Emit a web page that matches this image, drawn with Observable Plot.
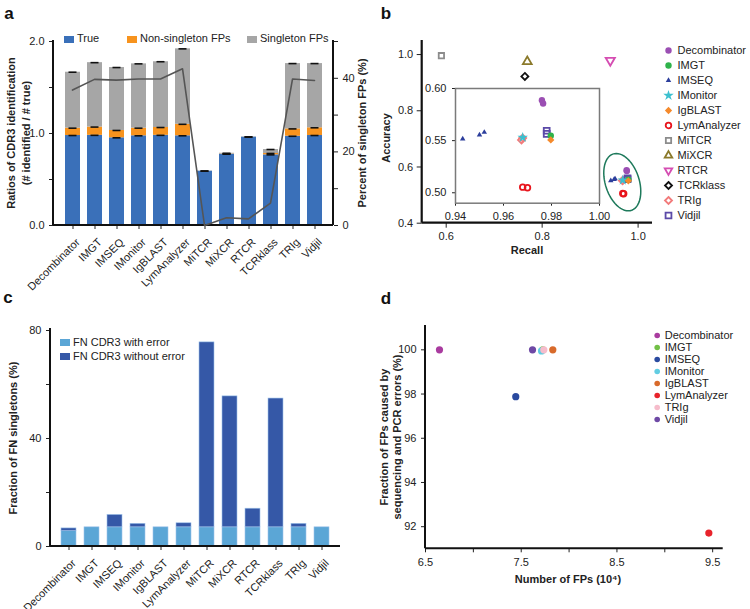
<!DOCTYPE html>
<html>
<head>
<meta charset="utf-8">
<script src="https://cdn.jsdelivr.net/npm/d3@7"></script>
<script src="https://cdn.jsdelivr.net/npm/@observablehq/plot@0.6"></script>
<style>
  body { margin: 0; background: #fff; font-family: "Liberation Sans", Arial, sans-serif; }
  #root { position: relative; width: 750px; height: 609px; overflow: hidden; background: #fff; }
  .t { position: absolute; white-space: nowrap; color: #222; font-size: 11px; line-height: 1; }
  .b { font-weight: bold; }
  .letter { font-weight: bold; font-size: 17px; color: #111; }
  .sw { position: absolute; }
</style>
</head>
<body>
<div id="root"></div>
<script>
// ---------------- DATA ----------------
// Panel a
const toolsA = ["Decombinator","IMGT","IMSEQ","IMonitor","IgBLAST","LymAnalyzer","MiTCR","MiXCR","RTCR","TCRklass","TRIg","Vidjil"];
const seriesA = ["True","Non-singleton FPs","Singleton FPs"];
const colorsA = ["#3a70b9","#f7931e","#a6a6a6"];
const trueA = [0.978,0.98,0.953,0.975,0.98,0.975,0.59,0.775,0.96,0.768,0.97,0.978];
const nonSingletonA = [0.08,0.09,0.08,0.083,0.085,0.125,0,0.003,0,0.015,0.08,0.084];
const singletonA = [0.608,0.70,0.684,0.699,0.715,0.82,0.003,0.007,0.004,0.043,0.71,0.698];
const singletonPctA = [36.8,39.7,39.5,39.8,39.8,42.6,0,2.1,1.8,6.1,39.8,39.4];
const ticksLeftA = [0,0.5,1,1.5,2];
const ticksRightA = [0,10,20,30,40,50];

// Panel b
const toolsB = ["Decombinator","IMGT","IMSEQ","IMonitor","IgBLAST","LymAnalyzer","MiTCR","MiXCR","RTCR","TCRklass","TRIg","Vidjil"];
const colorsB = ["#9b4fb3","#2fb34a","#2c3e9c","#3cc0cf","#f58a2c","#e8141c","#8c8c8c","#8b7a2b","#d54db2","#111111","#f27b7b","#5b4aa8"];
const filledB = [true,true,true,true,true,false,false,false,false,false,false,false];
const recallB = [[0.976,0.9765],[0.9797],[0.943,0.950,0.952],[0.968],[0.9797],[0.968,0.970],[0.590],[0.769],[0.942],[0.764],[0.9675,0.968],[0.978,0.978]];
const accuracyB = [[0.5888,0.5856],[0.5548],[0.5517,0.5555,0.558],[0.553],[0.5507],[0.5054,0.5048],[0.996],[0.975],[0.979],[0.922],[0.5507,0.5525],[0.5595,0.5565]];
const ticksXB = [0.6,0.8,1.0], ticksYB = [0.4,0.6,0.8,1.0];
const insetTicksXB = [0.94,0.96,0.98,1.00], insetTicksYB = [0.50,0.55,0.60];
const clusterOutlineB = {cx: 0.967, cy: 0.546, rx: 0.0365, ry: 0.102, shear: 0.0125};

// Panel c
const toolsC = toolsA;
const seriesC = ["FN CDR3 with error","FN CDR3 without error"];
const colorsC = ["#5ba6d6","#3558a7"];
const fnWithErrorC = [5.7,7.1,7.1,7.1,7.1,7.1,7.1,7.1,7.1,7.1,7.1,7.1];
const fnWithoutErrorC = [1.0,0,4.6,1.3,0,1.5,68.5,48.5,6.9,47.7,1.3,0];
const ticksC = [0,20,40,60,80];

// Panel d
const toolsD = ["Decombinator","IMGT","IMSEQ","IMonitor","IgBLAST","LymAnalyzer","TRIg","Vidjil"];
const colorsD = ["#a93b9f","#72c046","#2a4a9f","#62cde2","#d86a2b","#e8232b","#f6bccb","#6e49a5"];
const fpCountD = [6.646,7.725,7.443,7.712,7.83,9.46,7.736,7.618];
const fpErrorPctD = [100,100,97.88,99.95,100,91.71,100,100];
const ticksXD = [6.5,7,7.5,8,8.5,9,9.5];
const ticksYD = [92,94,96,98,100];

// ---------------- HELPERS ----------------
const root = document.getElementById("root");
const FONT = '"Liberation Sans", Arial, sans-serif';
const baseStyle = {fontFamily: FONT, fontSize: "11px", color: "#222", background: "transparent", overflow: "visible"};
function put(node, left, top) {
  node.style.position = "absolute";
  node.style.left = left + "px";
  node.style.top = top + "px";
  node.style.maxWidth = "none";
  root.appendChild(node);
  return node;
}
function axisLine(svg, x1, y1, x2, y2, w) {
  d3.select(svg).append("line")
    .attr("x1", x1).attr("y1", y1).attr("x2", x2).attr("y2", y2)
    .attr("stroke", "#111").attr("stroke-width", w || 2);
}
function shiftXLabels(svg, dx, dy) {
  const ns = "http://www.w3.org/2000/svg";
  svg.querySelectorAll('[aria-label^="x-axis"] text').forEach(t => {
    const g = document.createElementNS(ns, "g");
    g.setAttribute("transform", `translate(${dx},${dy})`);
    t.parentNode.insertBefore(g, t);
    g.appendChild(t);
  });
}
function text(content, cx, cy, cls, rotate) {
  const el = document.createElement("div");
  el.className = "t " + (cls || "");
  el.textContent = content;
  el.style.left = cx + "px";
  el.style.top = cy + "px";
  el.style.transform = "translate(-50%,-50%)" + (rotate ? " rotate(-90deg)" : "");
  root.appendChild(el);
  return el;
}
function swatchItem(color, label, left, cy, w, h) {
  const s = document.createElement("div");
  s.className = "sw";
  s.style.left = left + "px"; s.style.top = (cy - h / 2) + "px";
  s.style.width = w + "px"; s.style.height = h + "px"; s.style.background = color;
  root.appendChild(s);
  const t = document.createElement("div");
  t.className = "t";
  t.textContent = label;
  t.style.left = (left + w + 3) + "px";
  t.style.top = (cy - 6) + "px";
  root.appendChild(t);
}
const diamondSym = { draw(ctx, size) { const r = Math.sqrt(size) * 0.66; ctx.moveTo(0, -r); ctx.lineTo(r, 0); ctx.lineTo(0, r); ctx.lineTo(-r, 0); ctx.closePath(); } };
const triangleDownSym = { draw(ctx, size) { const s = Math.sqrt(size) * 0.6824, t = s / 2, u = s * Math.sqrt(3) / 2; ctx.moveTo(0, s); ctx.lineTo(u, -t); ctx.lineTo(-u, -t); ctx.closePath(); } };
const triangleUpSym = { draw(ctx, size) { const s = Math.sqrt(size) * 0.6824, t = s / 2, u = s * Math.sqrt(3) / 2; ctx.moveTo(0, -s); ctx.lineTo(u, t); ctx.lineTo(-u, t); ctx.closePath(); } };
const symbolsB = [d3.symbolCircle, d3.symbolCircle, triangleUpSym, d3.symbolStar, diamondSym, d3.symbolCircle, d3.symbolSquare, triangleUpSym, triangleDownSym, diamondSym, diamondSym, d3.symbolSquare];
const rB = [3.2,3.2,2.6,3.3,3.1,2.8,3.0,4.2,4.4,3.0,3.0,3.3];

// ---------------- PANEL A ----------------
const mA = {top: 41, right: 42, bottom: 75, left: 53, w: 375, h: 300};
const rowsA = toolsA.flatMap((tool, i) => [
  {tool, series: seriesA[0], value: trueA[i]},
  {tool, series: seriesA[1], value: nonSingletonA[i]},
  {tool, series: seriesA[2], value: singletonA[i]}
]);
const capsA = toolsA.flatMap((tool, i) => {
  const parts = [trueA[i], nonSingletonA[i], singletonA[i]];
  let acc = 0;
  return parts.map(p => { acc += p; return {tool, top: acc, size: p}; }).filter(d => d.size > 0.0015);
});
const plotA = Plot.plot({
  width: mA.w, height: mA.h,
  marginTop: mA.top, marginRight: mA.right, marginBottom: mA.bottom, marginLeft: mA.left,
  style: baseStyle,
  x: {domain: toolsA, padding: 0.34, tickRotate: -45, tickSize: 4, label: null},
  y: {domain: [0, 2], ticks: ticksLeftA, tickFormat: d => Number.isInteger(d) ? d.toFixed(1) : "", tickSize: 4, label: null},
  color: {domain: seriesA, range: colorsA},
  marks: [
    Plot.barY(rowsA, {x: "tool", y: "value", fill: "series"}),
    Plot.tickY(capsA, {x: "tool", y: "top", stroke: "#111", strokeWidth: 1.6, insetLeft: 3.5, insetRight: 3.5})
  ]
});
put(plotA, 0, 0);
shiftXLabels(plotA, 5, 3);
axisLine(plotA, mA.left, mA.top - 1, mA.left, mA.h - mA.bottom);
axisLine(plotA, mA.left, mA.h - mA.bottom, mA.w - mA.right, mA.h - mA.bottom);

const lineA = Plot.plot({
  width: mA.w, height: mA.h,
  marginTop: mA.top, marginRight: mA.right, marginBottom: mA.bottom, marginLeft: mA.left,
  style: baseStyle,
  x: {type: "point", domain: toolsA, padding: 0.67, axis: null},
  y: {domain: [0, 50], axis: "right", ticks: ticksRightA, tickFormat: d => d % 20 === 0 ? String(d) : "", tickSize: 4, label: null},
  marks: [
    Plot.line(toolsA.map((tool, i) => ({tool, pct: singletonPctA[i]})), {x: "tool", y: "pct", stroke: "#555", strokeWidth: 1.6})
  ]
});
put(lineA, 0, 0);
axisLine(lineA, mA.w - mA.right, mA.top - 1, mA.w - mA.right, mA.h - mA.bottom);

[64, 127, 247].forEach((left, i) => swatchItem(colorsA[i], seriesA[i], left, 39, 10, 7));
text("a", 9, 13, "letter");
text("Ratios of CDR3 identification", 11, 133, "b", true);
text("(# identified / # true)", 26, 133, "b", true);
text("Percent of singleton FPs (%)", 362, 133, "b", true);

// ---------------- PANEL B ----------------
const mB = {top: 40, right: 98, bottom: 77.3, left: 46.7, w: 375, h: 300};
const pointsB = toolsB.flatMap((tool, i) => recallB[i].map((r, k) => ({tool, recall: r, accuracy: accuracyB[i][k]})));
const drawOrderB = d3.range(toolsB.length).sort((a, b) => (filledB[a] - filledB[b]) || (a - b));
function dotMarksB(filterFn, scale) {
  return drawOrderB.map(i => Plot.dot(pointsB.filter(d => d.tool === toolsB[i] && filterFn(d)), {
    x: "recall", y: "accuracy", symbol: symbolsB[i], r: rB[i] * (scale || 1),
    fill: filledB[i] ? colorsB[i] : "none",
    stroke: filledB[i] ? "none" : colorsB[i],
    strokeWidth: filledB[i] ? 0 : 1.8
  }));
}
const o = clusterOutlineB;
const outlineB = d3.range(0, 361, 6).map(a => {
  const t = a * Math.PI / 180;
  return {recall: o.cx + o.rx * Math.cos(t) - o.shear * Math.sin(t), accuracy: o.cy + o.ry * Math.sin(t)};
});
const plotB = Plot.plot({
  width: mB.w, height: mB.h,
  marginTop: mB.top, marginRight: mB.right, marginBottom: mB.bottom, marginLeft: mB.left,
  style: baseStyle,
  x: {domain: [0.55, 1.03], ticks: ticksXB, tickFormat: ".1f", tickSize: 5, label: null},
  y: {domain: [0.4, 1.05], ticks: ticksYB, tickFormat: ".1f", tickSize: 5, label: null},
  marks: [
    Plot.line(outlineB, {x: "recall", y: "accuracy", stroke: "#1f7a5c", strokeWidth: 1.5, curve: "linear-closed"}),
    ...dotMarksB(() => true)
  ]
});
put(plotB, 375, 0);
axisLine(plotB, mB.left, mB.top, mB.left, mB.h - mB.bottom, 2.2);
axisLine(plotB, mB.left, mB.h - mB.bottom, mB.w - mB.right, mB.h - mB.bottom, 2.2);

const mI = {top: 13, right: 11, bottom: 22.3, left: 35, w: 190, h: 150};
const insetB = Plot.plot({
  width: mI.w, height: mI.h,
  marginTop: mI.top, marginRight: mI.right, marginBottom: mI.bottom, marginLeft: mI.left,
  style: baseStyle,
  x: {domain: [0.94, 1.00], ticks: insetTicksXB, tickFormat: ".2f", tickSize: 3, label: null},
  y: {domain: [0.49, 0.60], ticks: insetTicksYB, tickFormat: ".2f", tickSize: 3, label: null},
  marks: [
    Plot.frame({fill: "white", stroke: "#7a7a7a", strokeWidth: 1.5}),
    ...dotMarksB(d => d.recall >= 0.94 && d.recall <= 1.0 && d.accuracy >= 0.49 && d.accuracy <= 0.6)
  ]
});
put(insetB, 420, 75);

const legendB = Plot.plot({
  width: 88, height: 190, marginTop: 6.7, marginBottom: 11, marginLeft: 6, marginRight: 0,
  style: baseStyle,
  y: {type: "point", domain: toolsB, padding: 0, axis: null},
  marks: [
    ...toolsB.map((tool, i) => Plot.dot([tool], {
      y: d => d, frameAnchor: "left", symbol: symbolsB[i], r: Math.min(rB[i], 3.6),
      fill: filledB[i] ? colorsB[i] : "none", stroke: filledB[i] ? "none" : colorsB[i], strokeWidth: filledB[i] ? 0 : 1.8
    })),
    Plot.text(toolsB, {y: d => d, text: d => d, frameAnchor: "left", dx: 9, textAnchor: "start", fill: "#222", fontSize: 11})
  ]
});
put(legendB, 662, 40);
text("b", 386, 13, "letter");
text("Accuracy", 386, 138, "b", true);
text("Recall", 527, 250, "b");

// ---------------- PANEL C ----------------
const mC = {top: 30, right: 35, bottom: 63, left: 50, w: 375, h: 309};
const rowsC = toolsC.flatMap((tool, i) => [
  {tool, series: seriesC[0], value: fnWithErrorC[i]},
  {tool, series: seriesC[1], value: fnWithoutErrorC[i]}
]);
const plotC = Plot.plot({
  width: mC.w, height: mC.h,
  marginTop: mC.top, marginRight: mC.right, marginBottom: mC.bottom, marginLeft: mC.left,
  style: baseStyle,
  x: {domain: toolsC, padding: 0.35, tickRotate: -45, tickSize: 4, label: null},
  y: {domain: [0, 80], ticks: ticksC, tickFormat: d => d % 40 === 0 ? String(d) : "", tickSize: 4, label: null},
  color: {domain: seriesC, range: colorsC},
  marks: [
    Plot.barY(rowsC, {x: "tool", y: "value", fill: "series", stroke: "#9fc3ea", strokeWidth: 0.6})
  ]
});
put(plotC, 0, 300);
shiftXLabels(plotC, 5, 3);
axisLine(plotC, mC.left, mC.top - 2, mC.left, mC.h - mC.bottom);
axisLine(plotC, mC.left, mC.h - mC.bottom, mC.w - mC.right, mC.h - mC.bottom);
swatchItem(colorsC[0], seriesC[0], 60, 342.7, 10, 7);
swatchItem(colorsC[1], seriesC[1], 60, 356.7, 10, 7);
text("c", 8, 297, "letter");
text("Fraction of FN singletons (%)", 13, 438, "b", true);

// ---------------- PANEL D ----------------
const mD = {top: 25, right: 27.3, bottom: 60.7, left: 50, w: 375, h: 309};
const rowsD = toolsD.map((tool, i) => ({tool, count: fpCountD[i], pct: fpErrorPctD[i]}));
const plotD = Plot.plot({
  width: mD.w, height: mD.h,
  marginTop: mD.top, marginRight: mD.right, marginBottom: mD.bottom, marginLeft: mD.left,
  style: baseStyle,
  x: {domain: [6.5, 9.61], ticks: ticksXD, tickFormat: d => (Math.round(d * 2) % 2 === 1) ? d.toFixed(1) : "", tickSize: 4, label: null},
  y: {domain: [91, 101.1], ticks: ticksYD, tickFormat: d => String(d), tickSize: 4, label: null},
  color: {domain: toolsD, range: colorsD},
  marks: [
    Plot.dot(rowsD, {x: "count", y: "pct", fill: "tool", r: 3.6})
  ]
});
put(plotD, 375, 300);
axisLine(plotD, mD.left, mD.top, mD.left, mD.h - mD.bottom);
axisLine(plotD, mD.left, mD.h - mD.bottom, mD.w - mD.right, mD.h - mD.bottom);

const legendD = Plot.plot({
  width: 100, height: 105, marginTop: 8.3, marginBottom: 10, marginLeft: 6.7, marginRight: 0,
  style: baseStyle,
  y: {type: "point", domain: toolsD, padding: 0, axis: null},
  color: {domain: toolsD, range: colorsD},
  marks: [
    Plot.dot(toolsD, {y: d => d, fill: d => d, frameAnchor: "left", r: 2.8}),
    Plot.text(toolsD, {y: d => d, text: d => d, frameAnchor: "left", dx: 7.5, textAnchor: "start", fill: "#222", fontSize: 11})
  ]
});
put(legendD, 650, 325);
text("d", 386, 298, "letter");
text("Fraction of FPs caused by", 384, 437, "b", true);
text("sequencing and PCR errors (%)", 397, 437, "b", true);
text("Number of FPs (10\u2074)", 568, 579, "b");
</script>
</body>
</html>
